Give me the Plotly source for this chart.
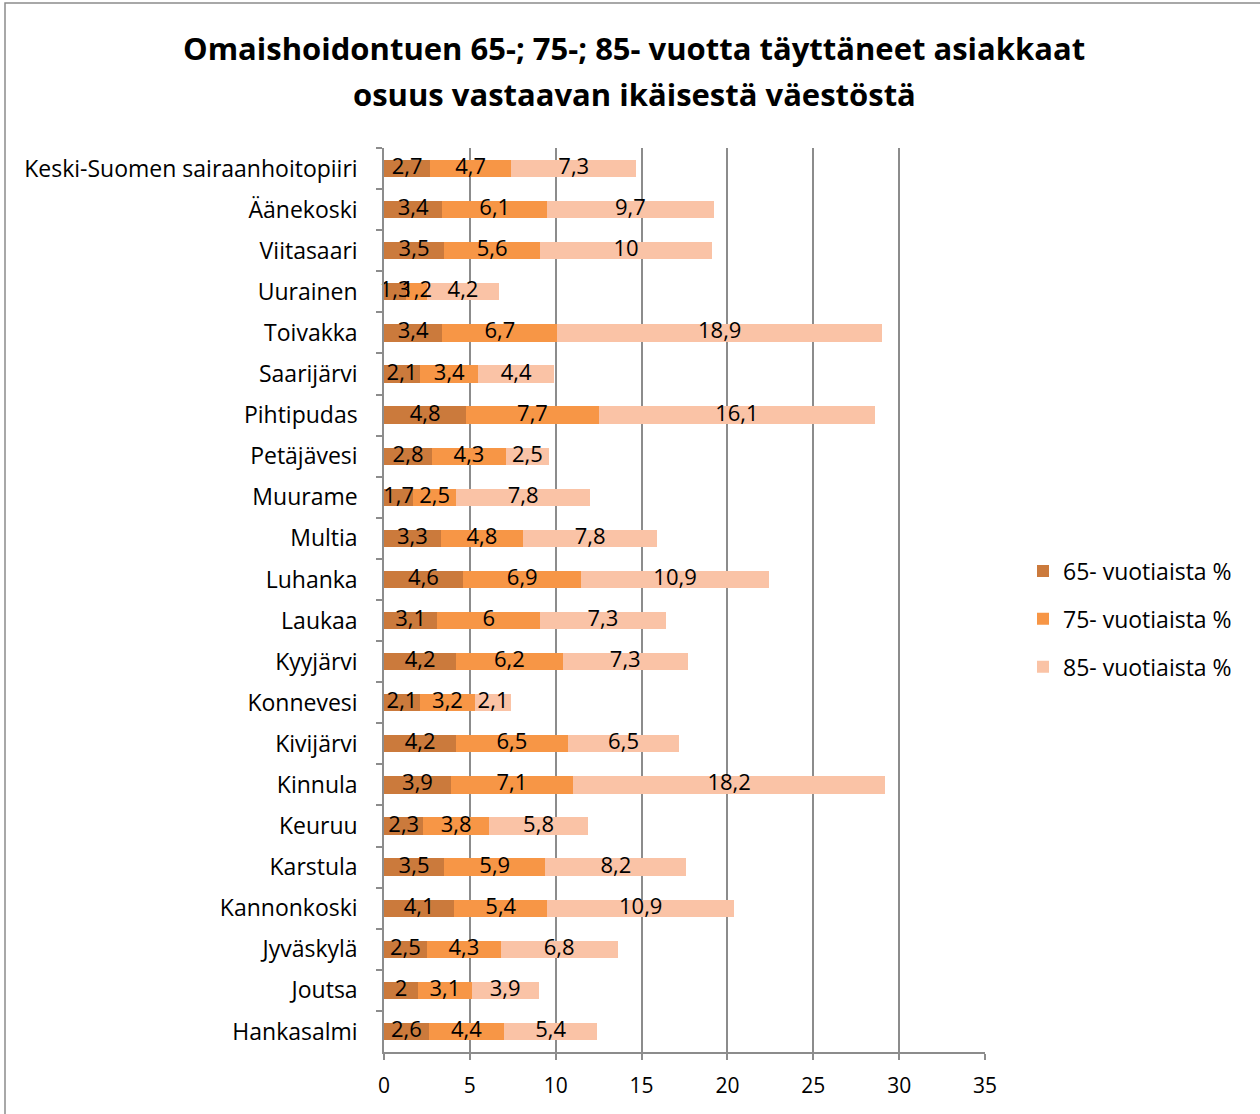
import numpy as np
import plotly.graph_objects as go

categories = ["Keski-Suomen sairaanhoitopiiri", "Äänekoski", "Viitasaari", "Uurainen", "Toivakka",
              "Saarijärvi", "Pihtipudas", "Petäjävesi", "Muurame", "Multia", "Luhanka", "Laukaa",
              "Kyyjärvi", "Konnevesi", "Kivijärvi", "Kinnula", "Keuruu", "Karstula", "Kannonkoski",
              "Jyväskylä", "Joutsa", "Hankasalmi"]
v65 = [2.7, 3.4, 3.5, 1.3, 3.4, 2.1, 4.8, 2.8, 1.7, 3.3, 4.6, 3.1, 4.2, 2.1, 4.2, 3.9, 2.3, 3.5, 4.1, 2.5, 2.0, 2.6]
v75 = [4.7, 6.1, 5.6, 1.2, 6.7, 3.4, 7.7, 4.3, 2.5, 4.8, 6.9, 6.0, 6.2, 3.2, 6.5, 7.1, 3.8, 5.9, 5.4, 4.3, 3.1, 4.4]
v85 = [7.3, 9.7, 10.0, 4.2, 18.9, 4.4, 16.1, 2.5, 7.8, 7.8, 10.9, 7.3, 7.3, 2.1, 6.5, 18.2, 5.8, 8.2, 10.9, 6.8, 3.9, 5.4]
series_names = ["65- vuotiaista %", "75- vuotiaista %", "85- vuotiaista %"]
colors = ["#CB7A3C", "#F79646", "#FAC3A6"]
x_ticks = [0, 5, 10, 15, 20, 25, 30, 35]
title_lines = ["Omaishoidontuen 65-; 75-; 85- vuotta täyttäneet asiakkaat",
               "osuus vastaavan ikäisestä väestöstä"]

FONT = "Open Sans"

def fmt(v):
    return f"{v:g}".replace(".", ",")

series = [v65, v75, v85]
fig = go.Figure()
for i, (name, vals) in enumerate(zip(series_names, series)):
    fig.add_trace(go.Bar(
        y=categories, x=vals, name=name, orientation="h",
        marker=dict(color=colors[i], line=dict(width=0)),
        legendgroup=f"g{i}", hoverinfo="x+y+name",
    ))

# data labels drawn on top of all bars (centred in each segment)
base = np.zeros(len(categories))
for i, vals in enumerate(series):
    arr = np.array(vals)
    fig.add_trace(go.Scatter(
        y=categories, x=base + arr / 2, mode="text",
        text=[fmt(v) for v in vals], textposition="middle center",
        textfont=dict(color="black", size=22, family=FONT),
        showlegend=False, hoverinfo="skip", cliponaxis=False,
    ))
    base = base + arr

W, H = 1260, 1114
L, R, T, B = 384, 275, 148, 62
n = len(categories)

annotations = []
for line, yc in zip(title_lines, [48, 94]):
    annotations.append(dict(
        text=f"<b>{line}</b>", xref="paper", yref="paper",
        x=(634 - L) / (W - L - R), y=1 + (T - yc) / (H - T - B),
        xanchor="center", yanchor="middle", showarrow=False,
        font=dict(size=31, family=FONT, color="black"),
    ))

fig.update_layout(
    width=W, height=H,
    barmode="stack", bargap=0.58,
    plot_bgcolor="white", paper_bgcolor="white",
    margin=dict(l=L, r=R, t=T, b=B, pad=0, autoexpand=False),
    font=dict(family=FONT, color="black"),
    annotations=annotations,
    xaxis=dict(
        range=[0, 35], tickvals=x_ticks, showgrid=True, gridcolor="#8C8C8C", gridwidth=1.5,
        showline=True, linecolor="#8C8C8C", linewidth=1.5,
        ticks="outside", ticklen=6, tickcolor="#8C8C8C", tickwidth=1.5,
        tickfont=dict(size=21, family=FONT), zeroline=False, ticklabelstandoff=8,
    ),
    yaxis=dict(
        range=[n - 0.5, -0.5], autorange=False, showline=True, linecolor="#8C8C8C", linewidth=1.5,
        ticks="outside", ticklen=6, tickcolor="#8C8C8C", tickwidth=1.5, tickson="boundaries",
        tickfont=dict(size=23, family=FONT), ticklabelstandoff=20,
        showgrid=False,
    ),
    legend=dict(
        xref="container", yref="container",
        x=1023 / W, xanchor="left", y=1 - 619 / H, yanchor="middle",
        font=dict(size=23, family=FONT), traceorder="grouped", tracegroupgap=15,
        itemwidth=30, bgcolor="rgba(0,0,0,0)",
    ),
    shapes=[dict(type="rect", xref="paper", yref="paper",
                 x0=-(L - 5) / (W - L - R), x1=(W - L + 5) / (W - L - R),
                 y0=-(B + 5) / (H - T - B), y1=1 + (T - 3) / (H - T - B),
                 line=dict(color="#8C8C8C", width=1.5), fillcolor="rgba(0,0,0,0)", layer="below")],
)

fig.write_html("out.html", config={"displayModeBar": False},
               post_script="document.body.style.margin='0';")
